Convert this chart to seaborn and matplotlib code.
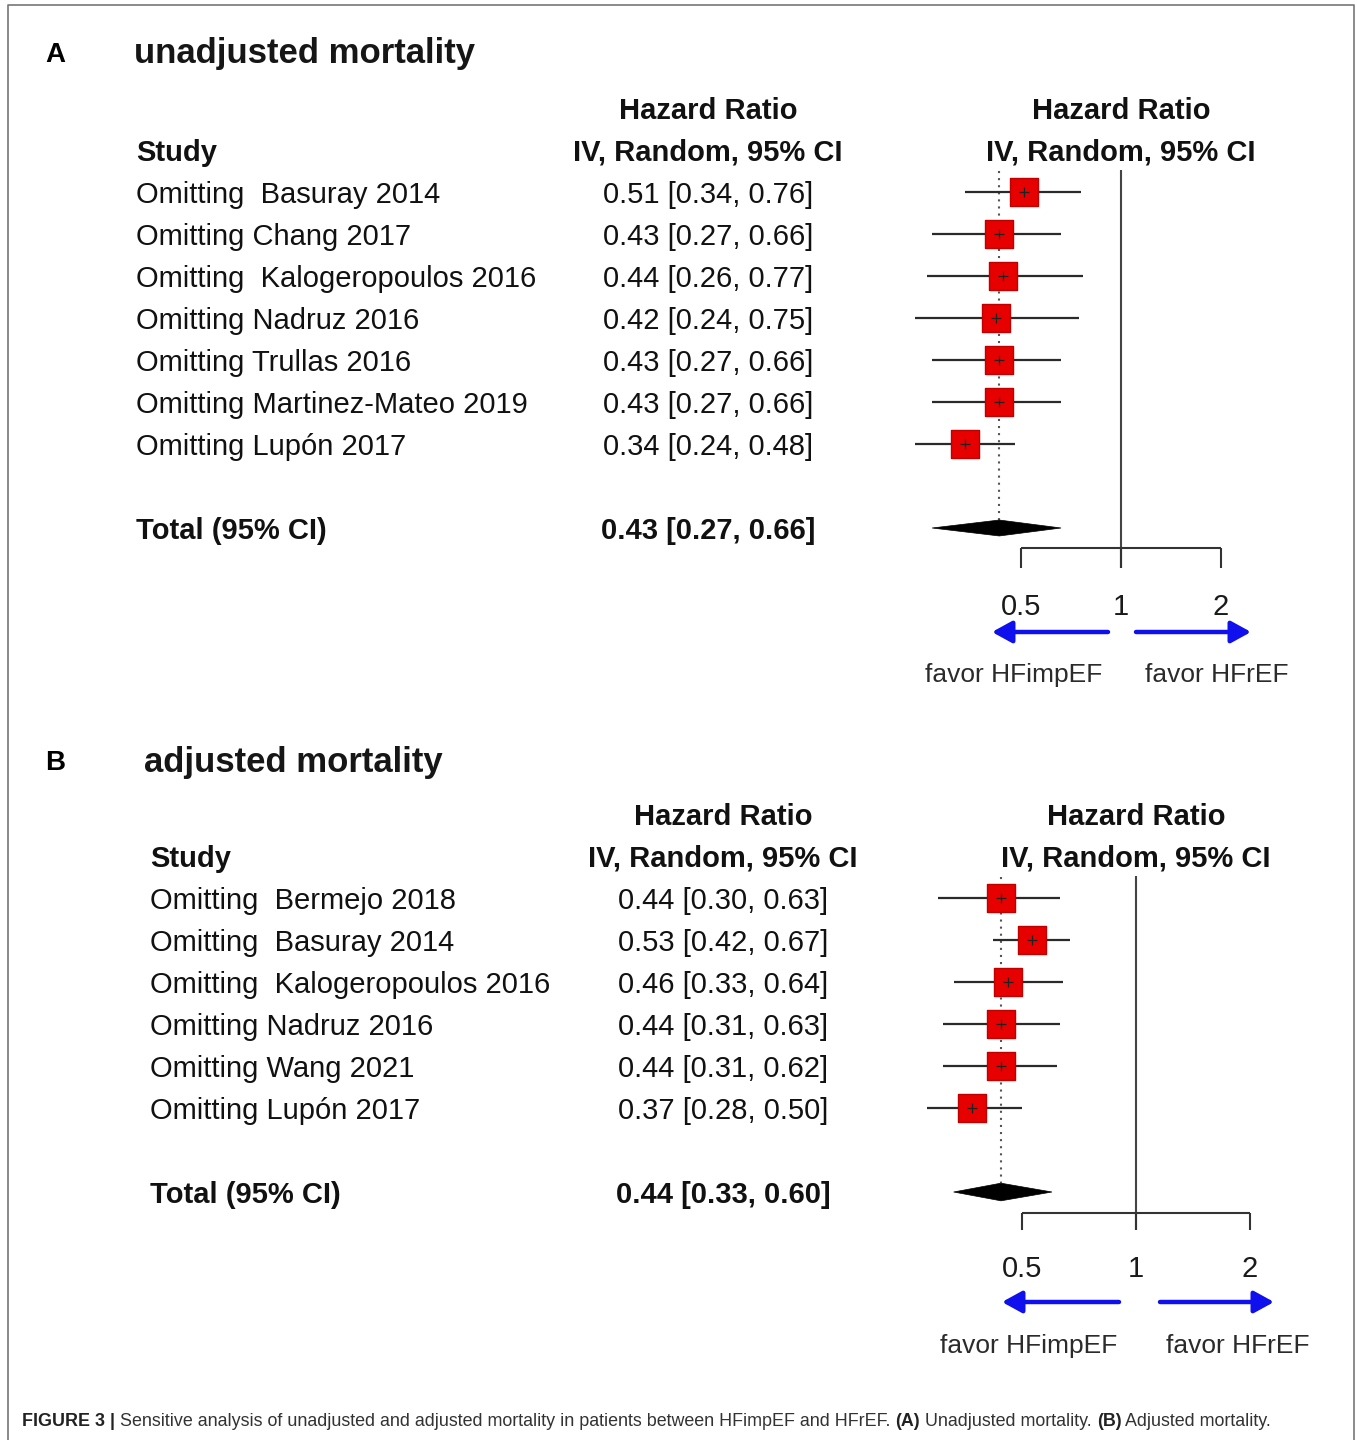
import numpy as np
import pandas as pd
import matplotlib
matplotlib.use("Agg")
import matplotlib.pyplot as plt
import matplotlib.transforms as mtransforms
from matplotlib.lines import Line2D
from matplotlib.patches import Polygon
from matplotlib import font_manager
import seaborn as sns

# ---------------- data ----------------
studies_a = ["Omitting  Basuray 2014", "Omitting Chang 2017", "Omitting  Kalogeropoulos 2016",
             "Omitting Nadruz 2016", "Omitting Trullas 2016", "Omitting Martinez-Mateo 2019",
             "Omitting Lupón 2017"]
hr_a = [0.51, 0.43, 0.44, 0.42, 0.43, 0.43, 0.34]
lo_a = [0.34, 0.27, 0.26, 0.24, 0.27, 0.27, 0.24]
hi_a = [0.76, 0.66, 0.77, 0.75, 0.66, 0.66, 0.48]
total_a = [0.43, 0.27, 0.66]

studies_b = ["Omitting  Bermejo 2018", "Omitting  Basuray 2014", "Omitting  Kalogeropoulos 2016",
             "Omitting Nadruz 2016", "Omitting Wang 2021", "Omitting Lupón 2017"]
hr_b = [0.44, 0.53, 0.46, 0.44, 0.44, 0.37]
lo_b = [0.30, 0.42, 0.33, 0.31, 0.31, 0.28]
hi_b = [0.63, 0.67, 0.64, 0.63, 0.62, 0.50]
total_b = [0.44, 0.33, 0.60]

axis_ticks = [0.5, 1, 2]
axis_tick_labels = ["0.5", "1", "2"]

# ---------------- style ----------------
sns.set_theme(style="white")
avail = {f.name for f in font_manager.fontManager.ttflist}
MAIN = ["Liberation Sans", "DejaVu Sans"]
CAP = ["Liberation Sans Narrow", "Liberation Sans", "DejaVu Sans"] if "Liberation Sans Narrow" in avail else ["Liberation Sans", "DejaVu Sans"]
plt.rcParams["font.family"] = MAIN

W, H = 1357, 1440
fig = plt.figure(figsize=(W / 100, H / 100), dpi=100)
fig.patch.set_facecolor("white")

FS = 21
TXT = "#111111"
TOFF = 0.07  # text vertical nudge (rows)


def panel(top, bot, row0, px1, scale, studies, hr, lo, hi, total,
          xs_left, xs_col2, title, letter, title_x, pos):
    ax = fig.add_axes([0, 1 - bot / H, 1, (bot - top) / H])
    ax.set_xscale("log", base=2)
    ax.axis("off")
    tr = mtransforms.blended_transform_factory(ax.transAxes, ax.transData)
    n = len(studies)
    df = pd.DataFrame({"study": studies, "hr": hr, "lo": lo, "hi": hi, "row": np.arange(n)})
    trow = n + 1

    def T(xpix, row, s, **kw):
        kw.setdefault("fontsize", FS)
        kw.setdefault("color", TXT)
        kw.setdefault("va", "center")
        ax.text(xpix / W, row + TOFF, s, transform=tr, **kw)

    # titles
    T(45, pos["letter"], letter, fontsize=20, fontweight="bold", color="black")
    T(title_x, pos["title"], title, fontsize=25, fontweight="bold", color="#161616")
    # headers
    T(xs_col2, -2, "Hazard Ratio", ha="center", fontweight="bold")
    T(xs_col2, -1, "IV, Random, 95% CI", ha="center", fontweight="bold")
    T(px1, -2, "Hazard Ratio", ha="center", fontweight="bold")
    T(px1, -1, "IV, Random, 95% CI", ha="center", fontweight="bold")
    T(xs_left, -1, "Study", fontweight="bold")
    for i, r in df.iterrows():
        T(xs_left, r["row"], r["study"])
        T(xs_col2, r["row"], f"{r['hr']:.2f} [{r['lo']:.2f}, {r['hi']:.2f}]", ha="center")
    T(xs_left, trow, "Total (95% CI)", fontweight="bold")
    T(xs_col2, trow, f"{total[0]:.2f} [{total[1]:.2f}, {total[2]:.2f}]", ha="center", fontweight="bold")

    # reference line at 1 and axis bracket
    br = pos["bracket"]
    tb = pos["tickbot"]
    ax.vlines(1, -0.52, tb, color="#444444", lw=1.5, zorder=1)
    ax.hlines(br, axis_ticks[0], axis_ticks[-1], color="#333333", lw=1.5)
    ax.vlines(axis_ticks, br, tb, color="#333333", lw=1.5)
    for t, lab in zip(axis_ticks, axis_tick_labels):
        ax.text(t, pos["ticklab"] + TOFF, lab, ha="center", va="center", fontsize=FS, color="#1a1a1a")

    # dotted line at pooled estimate
    dh = pos["dh"]
    ax.plot([total[0], total[0]], [-0.5, trow - dh], color="#555555", lw=1.5,
            linestyle=(0, (1, 2.4)), zorder=1)
    # CIs
    ax.hlines(df["row"], df["lo"], df["hi"], color="#2a2a2a", lw=1.6, zorder=2)
    sns.scatterplot(data=df, x="hr", y="row", marker="s", s=410, color="#e60000",
                    edgecolor="#c00000", linewidth=1, legend=False, ax=ax, zorder=3)
    sns.scatterplot(data=df, x="hr", y="row", marker="+", s=55, color="#222222",
                    linewidth=0.9, legend=False, ax=ax, zorder=4)
    # diamond
    dia = Polygon([(total[1], trow), (total[0], trow - dh), (total[2], trow), (total[0], trow + dh)],
                  closed=True, facecolor="black", edgecolor="black", lw=0.5, zorder=3)
    ax.add_patch(dia)

    # favour arrows
    ar = pos["arrow"]
    for (x0, x1) in pos["arrows"]:
        ax.annotate("", xy=(x1, ar), xytext=(x0, ar), xycoords="data",
                    arrowprops=dict(arrowstyle="-|>,head_length=1.0,head_width=0.55",
                                    color="#1010ee", lw=3.2, shrinkA=0, shrinkB=0))
    T(pos["fav1"], pos["favor"], "favor HFimpEF", ha="center", fontsize=19, color="#2b2b2b")
    T(pos["fav2"], pos["favor"], "favor HFrEF", ha="center", fontsize=19, color="#2b2b2b")
    ax.set_xlim(2 ** ((0 - px1) / scale), 2 ** ((W - px1) / scale))
    ax.set_ylim((bot - row0) / 42, (top - row0) / 42)
    return ax


def p2x(pix, px1, scale):
    return 2 ** ((pix - px1) / scale)


# Panel A
pxA, sA, r0A = 1121, 100, 192
posA = dict(letter=(52 - r0A) / 42, title=(51 - r0A) / 42, bracket=(548 - r0A) / 42,
            tickbot=(568 - r0A) / 42, ticklab=(604 - r0A) / 42, arrow=(632 - r0A) / 42,
            favor=(672 - r0A) / 42, dh=0.19, fav1=1014, fav2=1217,
            arrows=[(p2x(1108, pxA, sA), p2x(992, pxA, sA)), (p2x(1136, pxA, sA), p2x(1251, pxA, sA))])
panel(0, 720, r0A, pxA, sA, studies_a, hr_a, lo_a, hi_a, total_a,
      136, 708, "unadjusted mortality", "A", 134, posA)

# Panel B
pxB, sB, r0B = 1136, 114, 898
posB = dict(letter=(760 - r0B) / 42, title=(760 - r0B) / 42, bracket=(1213 - r0B) / 42,
            tickbot=(1230 - r0B) / 42, ticklab=(1266 - r0B) / 42, arrow=(1302 - r0B) / 42,
            favor=(1343 - r0B) / 42, dh=0.21, fav1=1029, fav2=1238,
            arrows=[(p2x(1119, pxB, sB), p2x(1002, pxB, sB)), (p2x(1160, pxB, sB), p2x(1274, pxB, sB))])
panel(720, 1400, r0B, pxB, sB, studies_b, hr_b, lo_b, hi_b, total_b,
      150, 723, "adjusted mortality", "B", 144, posB)

# frame (open at the bottom)
fx = lambda p: p / W
fy = lambda p: 1 - p / H
fig.add_artist(Line2D([fx(8), fx(8), fx(1354), fx(1354)], [fy(1440), fy(5), fy(5), fy(1440)],
                      transform=fig.transFigure, color="#777777", lw=1.2))

# caption with mixed weights
renderer = fig.canvas.get_renderer()
pieces = [("FIGURE 3 | ", "bold"),
          ("Sensitive analysis of unadjusted and adjusted mortality in patients between HFimpEF and HFrEF. ", "normal"),
          ("(A)", "bold"), (" Unadjusted mortality. ", "normal"), ("(B)", "bold"), (" Adjusted mortality.", "normal")]
x = 22
cap_fs = 12.9
for s, w in pieces:
    t = fig.text(x / W, fy(1421), s, fontsize=cap_fs, fontweight=w, family=CAP,
                 color="#333333" if w == "normal" else "#222222", va="center", ha="left")
    bb = t.get_window_extent(renderer)
    x = bb.x1

fig.savefig("out.png", dpi=100, facecolor="white")
